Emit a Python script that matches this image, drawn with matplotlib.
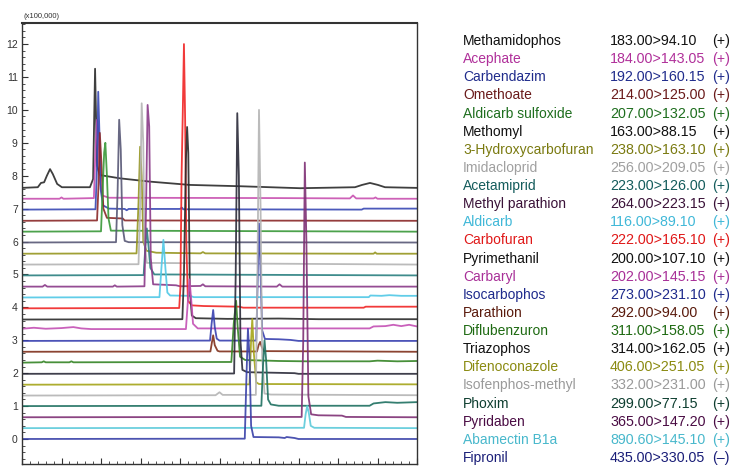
import matplotlib
matplotlib.use('Agg')
import matplotlib.pyplot as plt
from matplotlib.ticker import MultipleLocator, NullFormatter

plt.rcParams['font.family'] = ['Liberation Sans', 'DejaVu Sans']

names = ['Methamidophos', 'Acephate', 'Carbendazim', 'Omethoate', 'Aldicarb sulfoxide',
         'Methomyl', '3-Hydroxycarbofuran', 'Imidacloprid', 'Acetamiprid', 'Methyl parathion',
         'Aldicarb', 'Carbofuran', 'Pyrimethanil', 'Carbaryl', 'Isocarbophos', 'Parathion',
         'Diflubenzuron', 'Triazophos', 'Difenoconazole', 'Isofenphos-methyl', 'Phoxim',
         'Pyridaben', 'Abamectin B1a', 'Fipronil']
transitions = ['183.00>94.10', '184.00>143.05', '192.00>160.15', '214.00>125.00', '207.00>132.05',
               '163.00>88.15', '238.00>163.10', '256.00>209.05', '223.00>126.00', '264.00>223.15',
               '116.00>89.10', '222.00>165.10', '200.00>107.10', '202.00>145.15', '273.00>231.10',
               '292.00>94.00', '311.00>158.05', '314.00>162.05', '406.00>251.05', '332.00>231.00',
               '299.00>77.15', '365.00>147.20', '890.60>145.10', '435.00>330.05']
polarity = ['(+)'] * 23 + ['(–)']

text_colors = ['#111111', '#b0309a', '#202c8c', '#6a1a1a', '#1e6e1e', '#111111', '#7a7a10', '#a0a0a0',
               '#145c5c', '#3a1238', '#40b8d8', '#e01818', '#111111', '#a83098', '#1e2a8c', '#5a1a0c',
               '#1e6a12', '#111111', '#8a8a10', '#9a9a9a', '#0e3e30', '#4a0c44', '#48b8cc', '#1a1e78']
line_colors = ['#2a2a2a', '#c850b0', '#3848b4', '#8a2828', '#389838', '#585876', '#969620', '#b4b4b4',
               '#2a8080', '#8a3a88', '#50c8e6', '#f02424', '#2a2a2a', '#c450b4', '#3840b0', '#80301c',
               '#348424', '#2a2a38', '#a4a418', '#b4b4b4', '#1e7060', '#7e3074', '#5ccada', '#3840a8']

# traces: (retention time, intensity x100,000)
methamidophos = [(0, 7.63), (0.40, 7.65), (0.48, 7.78), (0.56, 7.8), (0.63, 8.0), (0.71, 8.2), (0.78, 8.05),
                 (0.89, 7.75), (1.01, 7.65), (1.72, 7.65), (1.80, 7.9), (1.85, 11.25), (1.90, 8.3),
                 (1.97, 8.02), (2.48, 7.92), (3.24, 7.82), (4.25, 7.72), (5.52, 7.68), (7.04, 7.62),
                 (8.43, 7.65), (8.61, 7.72), (8.81, 7.78), (9.01, 7.72), (9.19, 7.65), (10, 7.63)]
acephate = [(0, 7.30), (0.95, 7.30), (1.0, 7.34), (1.05, 7.30), (1.82, 7.32), (1.86, 8.8), (1.90, 9.7),
            (1.94, 9.2), (1.98, 7.8), (2.03, 7.40), (2.2, 7.33), (6.5, 7.32), (8.3, 7.31), (8.38, 7.40),
            (8.46, 7.31), (8.9, 7.31), (8.95, 7.34), (9.0, 7.30), (10, 7.30)]
carbendazim = [(0, 6.97), (1.86, 6.98), (1.90, 8.3), (1.93, 10.55), (1.96, 9.3), (1.99, 7.6), (2.05, 7.1),
               (2.2, 7.0), (2.6, 6.99), (2.65, 6.95), (2.7, 6.99), (4.0, 6.99), (4.05, 7.03), (4.08, 6.98),
               (8.6, 6.97), (8.65, 7.0), (10, 7.0)]
omethoate = [(0, 6.63), (1.90, 6.64), (1.94, 7.8), (1.97, 9.3), (2.01, 8.4), (2.06, 7.0), (2.15, 6.72),
             (2.55, 6.70), (2.6, 6.64), (10, 6.63)]
aldicarb_sulfoxide = [(0, 6.30), (2.0, 6.31), (2.04, 7.5), (2.08, 8.7), (2.11, 9.0), (2.15, 8.0),
                      (2.19, 6.7), (2.25, 6.33), (10, 6.30)]
methomyl = [(0, 5.97), (2.38, 5.98), (2.42, 7.5), (2.46, 9.7), (2.50, 8.8), (2.54, 6.5), (2.60, 6.02),
            (2.7, 5.98), (10, 5.97)]
hydroxycarbofuran = [(0, 5.63), (2.90, 5.64), (2.95, 7.2), (2.99, 8.88), (3.03, 8.0), (3.07, 6.0),
                     (3.15, 5.72), (3.4, 5.66), (4.52, 5.64), (4.58, 5.68), (4.64, 5.64), (8.9, 5.63),
                     (8.94, 5.67), (8.98, 5.63), (10, 5.63)]
imidacloprid = [(0, 5.30), (2.95, 5.31), (2.99, 7.0), (3.03, 10.2), (3.07, 9.0), (3.10, 6.0),
                (3.16, 5.35), (10, 5.30)]
acetamiprid = [(0, 4.97), (3.08, 4.98), (3.12, 5.8), (3.16, 6.4), (3.20, 5.9), (3.25, 5.2), (3.35, 5.0),
               (10, 4.97)]
methyl_parathion = [(0, 4.63), (0.52, 4.63), (0.58, 4.68), (0.64, 4.63), (2.30, 4.63), (2.35, 4.67),
                    (2.40, 4.63), (3.10, 4.64), (3.14, 7.0), (3.18, 10.15), (3.22, 9.5), (3.26, 5.5),
                    (3.32, 4.70), (3.9, 4.67), (4.0, 4.64), (4.52, 4.65), (4.58, 4.70), (4.64, 4.64),
                    (6.45, 4.63), (6.52, 4.70), (6.59, 4.63), (10, 4.63)]
aldicarb = [(0, 4.30), (3.48, 4.31), (3.53, 5.2), (3.58, 6.05), (3.63, 5.2), (3.68, 4.45), (3.75, 4.36),
            (4.25, 4.35), (4.35, 4.31), (8.78, 4.31), (8.82, 4.36), (9.1, 4.35), (9.3, 4.37),
            (9.6, 4.35), (10, 4.35)]
carbofuran = [(0, 3.97), (3.98, 3.98), (4.01, 4.6), (4.04, 8.0), (4.07, 9.9), (4.10, 12.0), (4.13, 9.7),
              (4.16, 6.0), (4.20, 4.2), (4.30, 4.06), (4.6, 4.04), (5.5, 4.02), (5.6, 3.99),
              (8.65, 3.99), (8.7, 4.02), (10, 4.02)]
pyrimethanil = [(0, 3.63), (4.06, 3.64), (4.10, 5.0), (4.15, 8.5), (4.18, 9.48), (4.21, 8.7), (4.25, 4.5),
                (4.30, 3.75), (4.40, 3.67), (5.2, 3.65), (6.5, 3.66), (7.5, 3.64), (10, 3.64)]
carbaryl = [(0, 3.35), (0.3, 3.38), (0.6, 3.35), (1.0, 3.37), (1.3, 3.40), (1.5, 3.36), (1.75, 3.34),
            (4.15, 3.34), (4.20, 4.2), (4.24, 4.85), (4.28, 4.3), (4.33, 3.5), (4.45, 3.36), (8.8, 3.36),
            (8.9, 3.42), (9.2, 3.43), (9.4, 3.47), (9.6, 3.43), (9.8, 3.47), (10, 3.42)]
isocarbophos = [(0, 2.98), (4.76, 2.99), (4.80, 3.5), (4.84, 3.92), (4.88, 3.4), (4.93, 3.05), (5.0, 2.99),
                (5.93, 2.99), (5.97, 5.0), (6.00, 6.55), (6.03, 5.5), (6.08, 3.3), (6.15, 3.04),
                (6.5, 3.03), (6.8, 3.01), (7.0, 2.98), (10, 2.98)]
parathion = [(0, 2.65), (4.77, 2.66), (4.81, 2.95), (4.84, 3.15), (4.88, 2.85), (4.95, 2.68), (5.0, 2.66),
             (5.95, 2.66), (5.99, 2.85), (6.03, 2.95), (6.07, 2.8), (6.12, 2.67), (10, 2.65)]
diflubenzuron = [(0, 2.32), (0.5, 2.33), (0.55, 2.36), (0.6, 2.33), (1.2, 2.33), (1.25, 2.36), (1.3, 2.33),
                 (5.30, 2.34), (5.36, 3.5), (5.42, 4.2), (5.46, 3.4), (5.52, 2.5), (5.65, 2.40),
                 (6.5, 2.37), (7.2, 2.36), (8.8, 2.36), (9.0, 2.38), (9.5, 2.36), (10, 2.37)]
triazophos = [(0, 1.98), (5.37, 1.99), (5.41, 5.0), (5.45, 9.9), (5.49, 8.0), (5.53, 3.0), (5.58, 2.1),
              (5.7, 2.03), (6.9, 2.0), (7.0, 1.98), (10, 1.98)]
difenoconazole = [(0, 1.65), (5.76, 1.66), (5.80, 3.0), (5.83, 3.65), (5.87, 2.6), (5.93, 1.72),
                  (6.0, 1.67), (10, 1.66)]
isofenphos_methyl = [(0, 1.32), (4.9, 1.33), (5.0, 1.42), (5.08, 1.34), (5.92, 1.34), (5.96, 5.0),
                     (6.00, 10.0), (6.04, 7.0), (6.08, 2.5), (6.14, 1.38), (6.3, 1.35), (10, 1.33)]
phoxim = [(0, 1.0), (6.06, 1.01), (6.10, 2.2), (6.14, 3.0), (6.18, 2.4), (6.23, 1.2), (6.3, 1.05),
          (6.5, 1.01), (8.8, 1.01), (8.9, 1.08), (9.2, 1.12), (9.5, 1.10), (10, 1.12)]
pyridaben = [(0, 0.66), (7.08, 0.67), (7.12, 3.0), (7.16, 8.4), (7.20, 6.0), (7.25, 1.3), (7.32, 0.75),
             (7.5, 0.72), (8.1, 0.71), (8.2, 0.67), (10, 0.66)]
abamectin = [(0, 0.33), (7.14, 0.34), (7.18, 0.75), (7.22, 1.0), (7.26, 0.8), (7.31, 0.4), (7.4, 0.34),
             (10, 0.33)]
fipronil = [(0, 0.0), (5.64, 0.01), (5.68, 1.8), (5.72, 3.35), (5.76, 2.5), (5.80, 0.4), (5.86, 0.06),
            (6.5, 0.05), (6.65, 0.03), (6.7, 0.06), (6.9, 0.03), (7.0, 0.0), (10, 0.0)]

traces = [methamidophos, acephate, carbendazim, omethoate, aldicarb_sulfoxide, methomyl,
          hydroxycarbofuran, imidacloprid, acetamiprid, methyl_parathion, aldicarb, carbofuran,
          pyrimethanil, carbaryl, isocarbophos, parathion, diflubenzuron, triazophos, difenoconazole,
          isofenphos_methyl, phoxim, pyridaben, abamectin, fipronil]

fig = plt.figure(figsize=(7.36, 4.68), dpi=100)
ax = fig.add_axes([22/736, 4/468, 395/736, 441/468])

for tr, c in zip(traces, line_colors):
    xs = [p[0] for p in tr]
    ys = [p[1] for p in tr]
    ax.plot(xs, ys, color=c, lw=1.3, alpha=0.9, solid_joinstyle='round')

ax.set_xlim(0, 10)
ax.set_ylim(-0.76, 12.64)
ax.xaxis.set_major_locator(MultipleLocator(1))
ax.xaxis.set_minor_locator(MultipleLocator(0.2))
ax.yaxis.set_major_locator(MultipleLocator(1))
ax.yaxis.set_minor_locator(MultipleLocator(0.2))
ax.xaxis.set_major_formatter(NullFormatter())
ax.tick_params(which='both', direction='in', top=False, right=False, colors='#333333')
ax.tick_params(which='major', length=4, width=0.8, labelsize=7.5, pad=3)
ax.tick_params(which='minor', length=2, width=0.6)
for s in ax.spines.values():
    s.set_color('#333333')
    s.set_linewidth(1.0)
ax.spines['top'].set_linewidth(1.5)

fig.text(24/736, 1 - 16/468, '(x100,000)', fontsize=5.5, color='#333333', va='center')

row0 = 41
step = 18.13
for i in range(len(names)):
    y = 1 - (row0 + i * step) / 468
    fig.text(463/736, y, names[i], fontsize=10, color=text_colors[i], va='center')
    fig.text(610/736, y, transitions[i], fontsize=10.3, color=text_colors[i], va='center')
    fig.text(712/736, y, polarity[i], fontsize=10.3, color=text_colors[i], va='center')

fig.savefig('out.png', dpi=100)
